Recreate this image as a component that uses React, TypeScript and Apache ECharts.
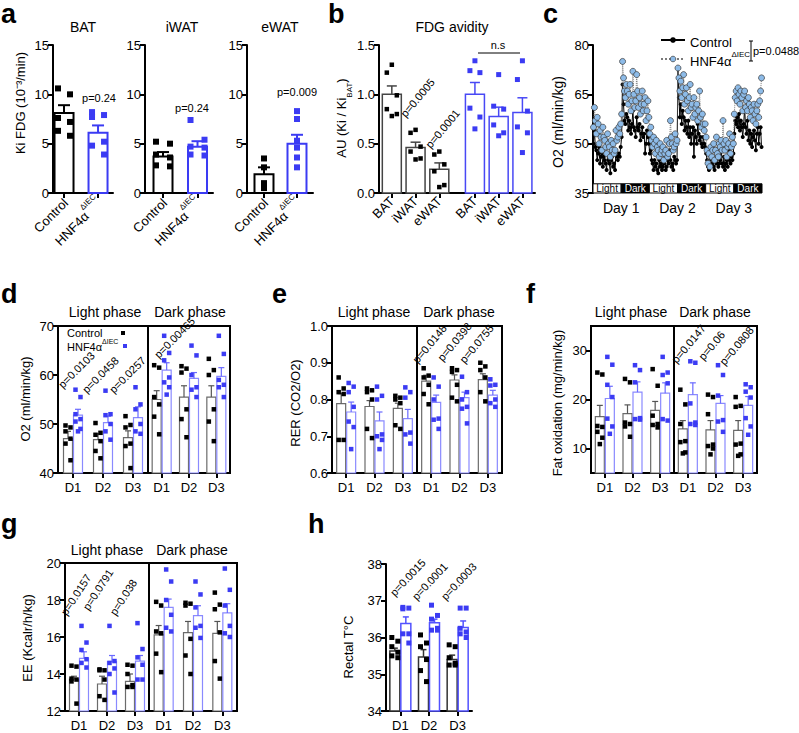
import React, { useEffect, useRef } from 'react';
import * as echarts from 'echarts';

const FONT = '"Liberation Sans", Arial, Helvetica, sans-serif';
const BLUE = '#3b3bf3';
const BLUE_BAR = '#8a8aff';
const BLUE_ERR = '#6a6aff';
const GRAY_BAR = '#6b6b6b';
const GRAY_ERR = '#555555';
const LIGHT_BLUE = '#8dbbe8';

// ---------------- panel a : Ki FDG ----------------
const aTissues = ['BAT', 'iWAT', 'eWAT'];
const aGroups = ['Control', 'HNF4α'];
const aCtrlMean = [8.1, 3.7, 1.9];
const aCtrlSem = [0.8, 0.45, 0.7];
const aHnfMean = [6.1, 4.7, 5.0];
const aHnfSem = [0.75, 0.55, 0.9];
const aCtrlPts = [
  [10.6, 10.0, 7.6, 7.2, 6.3, 5.8],
  [5.2, 5.0, 3.9, 3.6, 2.8, 2.7],
  [3.5, 2.6, 1.0, 0.5],
];
const aHnfPts = [
  [8.2, 7.9, 7.7, 5.2, 4.8, 3.9],
  [7.4, 5.4, 4.7, 4.6, 3.9, 3.8],
  [8.3, 7.5, 5.3, 4.6, 3.6, 2.6],
];
const aPValues = ['p=0.24', 'p=0.24', 'p=0.009'];

// ---------------- panel b : FDG avidity ----------------
const bTissues = ['BAT', 'iWAT', 'eWAT'];
const bCtrlMean = [1.0, 0.46, 0.24];
const bCtrlSem = [0.085, 0.055, 0.065];
const bHnfMean = [1.0, 0.775, 0.815];
const bHnfSem = [0.12, 0.095, 0.15];
const bCtrlPts = [
  [1.30, 1.22, 0.99, 0.85, 0.80, 0.78],
  [0.64, 0.61, 0.47, 0.42, 0.35, 0.34],
  [0.42, 0.39, 0.29, 0.22, 0.08, 0.06],
];
const bHnfPts = [
  [1.34, 1.24, 1.22, 0.86, 0.77, 0.65],
  [1.20, 0.88, 0.85, 0.69, 0.61, 0.58],
  [1.34, 1.15, 0.83, 0.67, 0.61, 0.41],
];
const bPValues = ['p=0.0005', 'p=0.0001'];

// ---------------- panel c : O2 time course ----------------
const cPhases = ['Light', 'Dark', 'Light', 'Dark', 'Light', 'Dark'];
const cDays = ['Day 1', 'Day 2', 'Day 3'];
const cCtrlLight1 = [50, 54, 49, 48, 45, 47, 49, 44, 46, 47, 43, 46, 45, 44, 42, 47, 45, 44, 41, 45, 46, 43, 44, 42, 48, 46, 45, 47, 46, 49];
const cCtrlDark1 = [52, 68, 62, 57, 56, 59, 58, 54, 57, 55, 53, 56, 60, 55, 54, 52, 58, 55, 54, 56, 51, 53, 55, 52, 53, 47, 50, 54, 52, 50];
const cCtrlLight2 = [47, 48, 45, 44, 42, 45, 43, 44, 42, 41, 45, 43, 44, 42, 43, 44, 46, 42, 43, 45, 44, 48, 45, 43, 44, 42, 46, 45, 44, 45];
const cCtrlDark2 = [73, 64, 58, 62, 56, 60, 58, 54, 57, 55, 53, 57, 52, 55, 50, 53, 55, 46, 54, 52, 50, 56, 53, 51, 52, 50, 49, 52, 50, 49];
const cCtrlLight3 = [47, 45, 43, 42, 45, 43, 44, 46, 43, 42, 45, 44, 46, 43, 44, 45, 49, 44, 43, 46, 42, 44, 45, 43, 48, 45, 44, 46, 45, 47];
const cCtrlDark3 = [53, 57, 56, 58, 55, 59, 54, 57, 55, 52, 56, 61, 55, 53, 57, 51, 54, 50, 53, 49, 52, 54, 51, 48, 53, 55, 50, 53, 55, 49];
const cHnfLight1 = [55, 61, 57, 53, 58, 56, 50, 54, 52, 48, 55, 52, 51, 49, 47, 53, 50, 49, 46, 51, 48, 50, 47, 48, 54, 51, 52, 55, 53, 56];
const cHnfDark1 = [59, 75, 70, 66, 64, 68, 66, 62, 65, 68, 60, 63, 72, 65, 61, 63, 71, 66, 61, 64, 59, 62, 66, 60, 62, 64, 57, 60, 63, 58];
const cHnfLight2 = [53, 55, 51, 49, 52, 50, 47, 51, 49, 48, 46, 50, 47, 48, 49, 45, 47, 48, 51, 46, 47, 50, 57, 52, 50, 48, 49, 53, 50, 51];
const cHnfDark2 = [73, 70, 66, 69, 64, 67, 71, 62, 65, 67, 63, 60, 64, 68, 61, 62, 58, 64, 59, 61, 62, 57, 60, 66, 58, 55, 59, 56, 54, 56];
const cHnfLight3 = [52, 48, 44, 47, 43, 49, 46, 48, 50, 45, 48, 52, 47, 46, 50, 49, 51, 48, 57, 50, 48, 51, 46, 49, 50, 53, 47, 49, 52, 50];
const cHnfDark3 = [59, 64, 66, 63, 67, 65, 62, 66, 64, 60, 65, 66, 61, 63, 60, 64, 62, 58, 61, 60, 57, 62, 59, 56, 60, 62, 58, 63, 66, 70];
const cCtrlBlocks = [cCtrlLight1, cCtrlDark1, cCtrlLight2, cCtrlDark2, cCtrlLight3, cCtrlDark3];
const cHnfBlocks = [cHnfLight1, cHnfDark1, cHnfLight2, cHnfDark2, cHnfLight3, cHnfDark3];
const cPValue = 'p=0.0488';

// ---------------- shared for d-h ----------------
const days = ['D1', 'D2', 'D3'];

// panel d : O2 (order: light D1-D3, dark D1-D3)
const dCtrlMean = [47.0, 46.8, 47.2, 55.0, 55.5, 55.5];
const dCtrlSem = [1.5, 1.2, 1.4, 1.8, 2.3, 2.3];
const dHnfMean = [51.8, 50.3, 51.3, 61.0, 59.3, 59.7];
const dHnfSem = [1.2, 1.3, 2.2, 1.5, 1.2, 1.8];
const dCtrlPts = [
  [49.7, 49.3, 48.5, 47.0, 46.0, 42.6],
  [50.2, 48.2, 47.8, 46.5, 44.5, 43.0],
  [51.6, 49.8, 49.3, 46.0, 45.5, 41.0],
  [62.0, 61.5, 55.5, 54.0, 51.5, 47.9],
  [61.8, 61.3, 60.5, 53.0, 51.0, 47.3],
  [63.3, 61.0, 60.0, 53.0, 50.5, 46.5],
];
const dHnfPts = [
  [57.0, 55.5, 52.0, 51.0, 50.5, 49.0, 48.5],
  [56.8, 52.0, 51.8, 50.0, 48.5, 46.8],
  [57.5, 54.0, 53.0, 50.0, 48.5, 48.0],
  [68.0, 64.5, 63.0, 59.5, 58.5, 57.5, 56.0],
  [66.0, 64.0, 60.0, 57.5, 57.0, 55.5],
  [68.0, 64.3, 59.0, 58.0, 57.5, 55.5],
];
const dPValues = ['p=0.0103', 'p=0.0458', 'p=0.0257', 'p=0.00465'];

// panel e : RER
const eCtrlMean = [0.789, 0.781, 0.776, 0.850, 0.853, 0.854];
const eCtrlSem = [0.027, 0.016, 0.014, 0.016, 0.014, 0.016];
const eHnfMean = [0.766, 0.742, 0.748, 0.792, 0.805, 0.812];
const eHnfSem = [0.027, 0.024, 0.025, 0.020, 0.015, 0.013];
const eCtrlPts = [
  [0.86, 0.83, 0.82, 0.815, 0.69, 0.69],
  [0.83, 0.825, 0.82, 0.80, 0.72, 0.695],
  [0.81, 0.805, 0.80, 0.79, 0.73, 0.72],
  [0.885, 0.865, 0.86, 0.84, 0.815, 0.787],
  [0.885, 0.88, 0.875, 0.84, 0.805, 0.795],
  [0.90, 0.89, 0.88, 0.86, 0.82, 0.795],
];
const eHnfPts = [
  [0.845, 0.835, 0.82, 0.78, 0.74, 0.725, 0.665],
  [0.835, 0.81, 0.80, 0.705, 0.70, 0.69, 0.665],
  [0.833, 0.82, 0.805, 0.71, 0.705, 0.68],
  [0.86, 0.835, 0.80, 0.748, 0.745, 0.72],
  [0.862, 0.82, 0.80, 0.78, 0.775, 0.735],
  [0.855, 0.84, 0.838, 0.80, 0.79, 0.78],
];
const ePValues = ['p=0.0148', 'p=0.0398', 'p=0.0755'];

// panel f : fat oxidation
const fCtrlMean = [16.5, 17.1, 17.8, 14.0, 13.8, 13.7];
const fCtrlSem = [2.3, 1.8, 1.8, 1.7, 1.9, 2.0];
const fHnfMean = [20.2, 21.5, 21.3, 21.0, 19.2, 18.8];
const fHnfSem = [2.5, 2.1, 2.1, 2.4, 1.6, 1.8];
const fCtrlPts = [
  [25.5, 25.1, 14.6, 14.4, 13.4, 12.2, 10.9],
  [24.2, 23.5, 15.3, 15.0, 14.5, 12.4],
  [26.2, 22.8, 16.7, 15.0, 14.8, 14.3],
  [22.0, 19.0, 15.0, 11.5, 11.3, 9.2, 9.0],
  [21.0, 20.5, 17.0, 10.8, 10.5, 10.0, 8.8],
  [20.5, 18.7, 18.5, 11.0, 10.8, 8.8, 8.5],
];
const fHnfPts = [
  [28.7, 27.1, 23.0, 20.5, 16.1, 14.5, 13.0],
  [27.0, 26.0, 23.5, 16.2, 16.0, 15.9],
  [28.7, 25.5, 25.0, 23.3, 16.0, 15.7],
  [27.8, 27.5, 19.2, 15.3, 15.0, 14.8],
  [27.0, 25.0, 20.8, 15.8, 15.5, 13.4],
  [23.1, 22.5, 21.6, 20.4, 16.2, 14.5, 12.8],
];
const fTicks = [10, 20, 30];
const fPValues = ['p=0.0147', 'p=0.06', 'p=0.0808'];

// panel g : EE
const gCtrlMean = [13.73, 13.46, 13.6, 16.12, 16.24, 16.2];
const gCtrlSem = [0.15, 0.42, 0.4, 0.5, 0.6, 0.64];
const gHnfMean = [14.85, 14.67, 14.7, 17.6, 17.16, 17.3];
const gHnfSem = [0.35, 0.33, 0.3, 0.45, 0.53, 0.5];
const gCtrlPts = [
  [14.45, 14.4, 13.75, 13.7, 13.6, 12.4],
  [14.25, 14.2, 14.2, 13.7, 12.8, 12.6],
  [14.5, 14.45, 14.0, 13.4, 13.3, 13.3],
  [17.9, 17.7, 16.3, 16.2, 15.1, 14.1],
  [17.85, 17.8, 17.7, 15.9, 15.0, 14.0],
  [18.4, 17.75, 17.5, 16.25, 14.7, 13.75],
];
const gHnfPts = [
  [16.6, 15.7, 15.3, 14.8, 14.6, 14.35],
  [16.6, 14.7, 14.6, 14.3, 14.0, 13.0],
  [16.75, 15.35, 14.9, 14.5, 13.7, 13.7],
  [19.65, 19.0, 18.0, 17.2, 16.5, 16.3],
  [19.0, 18.3, 17.6, 16.6, 16.5, 15.95],
  [19.7, 18.55, 17.7, 16.6, 16.2, 16.0],
];
const gPValues = ['p=0.0157', 'p=0.0791', 'p=0.038'];

// panel h : rectal temperature
const hCtrlMean = [35.63, 35.47, 35.4];
const hCtrlSem = [0.08, 0.2, 0.12];
const hHnfMean = [36.38, 36.4, 36.27];
const hHnfSem = [0.18, 0.1, 0.18];
const hCtrlPts = [
  [36.0, 35.9, 35.75, 35.6, 35.5, 35.45],
  [36.07, 35.85, 35.75, 35.4, 35.1, 34.8],
  [35.8, 35.75, 35.45, 35.3, 35.25, 35.25],
];
const hHnfPts = [
  [36.82, 36.8, 36.78, 36.1, 36.1, 35.85],
  [36.88, 36.6, 36.5, 36.25, 36.2, 36.2],
  [36.8, 36.8, 36.25, 36.15, 36.1, 36.0],
];
const hPValues = ['p=0.0015', 'p=0.0001', 'p=0.0003'];

// ================= helpers =================
const axLine = { show: true, lineStyle: { color: '#000', width: 2 } };
const axTick = { show: true, length: 5, lineStyle: { color: '#000', width: 2 } };
const supRich = {
  n: { fontSize: 13, fontFamily: FONT, color: '#000', lineHeight: 18, verticalAlign: 'bottom' },
  s: { fontSize: 8, fontFamily: FONT, color: '#000', lineHeight: 18, verticalAlign: 'top' },
};

function addGrid(o: any, left: number, top: number, width: number, height: number, border: boolean) {
  o.grid.push({ left, top, width, height, show: border, borderColor: '#000', borderWidth: 2, backgroundColor: 'transparent' });
  return o.grid.length - 1;
}

function addY(o: any, gi: number, min: number, max: number, interval: number | null, show: boolean, ticks?: number[], decimals = 0) {
  const ax: any = {
    type: 'value', gridIndex: gi, min, max, show,
    splitLine: { show: false },
    axisLine: axLine,
    axisTick: { ...axTick },
    axisLabel: { color: '#000', fontSize: 13, margin: 4, fontFamily: FONT, formatter: (v: number) => v.toFixed(decimals) },
  };
  if (interval) ax.interval = interval;
  if (ticks) {
    ax.axisTick.customValues = ticks;
    ax.axisLabel.customValues = ticks;
  }
  o.yAxis.push(ax);
  return o.yAxis.length - 1;
}

function addXCat(o: any, gi: number, data: string[], extra: any = {}) {
  o.xAxis.push({
    type: 'category', gridIndex: gi, data,
    axisLine: axLine,
    axisTick: { ...axTick, alignWithLabel: true },
    axisLabel: { color: '#000', fontSize: 13, margin: 8, interval: 0, fontFamily: FONT },
    splitLine: { show: false },
    ...extra,
  });
  return o.xAxis.length - 1;
}

function addXVal(o: any, gi: number, min: number, max: number, ticks: number[], labels: string[], rich: boolean) {
  o.xAxis.push({
    type: 'value', gridIndex: gi, min, max,
    splitLine: { show: false },
    axisLine: axLine,
    axisTick: { ...axTick, customValues: ticks },
    axisLabel: {
      customValues: ticks, rotate: 45, margin: 6, color: '#000', fontSize: 13, fontFamily: FONT,
      formatter: (v: number) => {
        let k = 0;
        ticks.forEach((t, i) => { if (Math.abs(t - v) < Math.abs(ticks[k] - v)) k = i; });
        const lab = labels[k];
        if (!rich) return lab;
        return lab === 'HNF4α' ? '{n|HNF4α}{s|ΔIEC}' : '{n|' + lab + '}';
      },
      rich: rich ? supRich : undefined,
    },
  });
  return o.xAxis.length - 1;
}

function barS(xi: number, yi: number, data: number[][], dx: number, w: number, stroke: string, lw: number, base: number, name: string) {
  return {
    type: 'custom', name, xAxisIndex: xi, yAxisIndex: yi, coordinateSystem: 'cartesian2d', silent: true, z: 2,
    data,
    renderItem: (_p: any, api: any) => {
      const x = api.value(0);
      const v = api.value(1);
      const t = api.coord([x, v]);
      const b = api.coord([x, base]);
      return {
        type: 'rect',
        shape: { x: t[0] + dx - w / 2, y: t[1], width: w, height: b[1] - t[1] },
        style: { fill: '#fff', stroke, lineWidth: lw },
      };
    },
  };
}

function semS(xi: number, yi: number, data: number[][], dx: number, cap: number, stroke: string, lw: number, name: string) {
  return {
    type: 'custom', name, xAxisIndex: xi, yAxisIndex: yi, coordinateSystem: 'cartesian2d', silent: true, z: 3,
    data,
    renderItem: (_p: any, api: any) => {
      const x = api.value(0);
      const m = api.value(1);
      const s = api.value(2);
      const p0 = api.coord([x, m]);
      const p1 = api.coord([x, m + s]);
      const cx = p0[0] + dx;
      return {
        type: 'group',
        children: [
          { type: 'line', shape: { x1: cx, y1: p0[1], x2: cx, y2: p1[1] }, style: { stroke, lineWidth: lw } },
          { type: 'line', shape: { x1: cx - cap / 2, y1: p1[1], x2: cx + cap / 2, y2: p1[1] }, style: { stroke, lineWidth: lw } },
        ],
      };
    },
  };
}

function ptsS(xi: number, yi: number, data: number[][], dx: number, jitter: number[], size: number, fill: string, name: string) {
  return {
    type: 'custom', name, xAxisIndex: xi, yAxisIndex: yi, coordinateSystem: 'cartesian2d', silent: true, z: 4,
    data,
    renderItem: (_p: any, api: any) => {
      const x = api.value(0);
      const v = api.value(1);
      const j = api.value(2);
      const p = api.coord([x, v]);
      const cx = p[0] + dx + jitter[j % jitter.length];
      return { type: 'rect', shape: { x: cx - size / 2, y: p[1] - size / 2, width: size, height: size }, style: { fill } };
    },
  };
}

function T(text: string, x: number, y: number, opt: any = {}) {
  const align = opt.align || 'center';
  const va = opt.va || 'middle';
  return {
    type: 'text', x, y, rotation: ((opt.rot || 0) * Math.PI) / 180, silent: true, z: 100,
    style: {
      text, fill: opt.color || '#000',
      font: `${opt.bold ? 'bold ' : ''}${opt.size || 13}px ${FONT}`,
      fontSize: opt.size || 13, fontFamily: FONT, fontWeight: opt.bold ? 'bold' : 'normal',
      align, textAlign: align, verticalAlign: va, textVerticalAlign: va,
      rich: opt.rich,
    },
  };
}

const JIT_SMALL = [-2.5, 2.5, -2.5, 2.5, -2.5, 2.5, 0];

function phasePanel(o: any, cfg: any) {
  const parts = [
    { left: cfg.left, w: cfg.lightW, off: 0 },
    { left: cfg.left + cfg.lightW, w: cfg.darkW, off: 3 },
  ];
  parts.forEach((ph, pi) => {
    const gi = addGrid(o, ph.left, cfg.top, ph.w, cfg.h, true);
    const xi = addXCat(o, gi, days);
    const yi = addY(o, gi, cfg.min, cfg.max, cfg.interval, pi === 0, cfg.ticks, cfg.decimals || 0);
    const idx = [0, 1, 2].map((k) => k + ph.off);
    o.series.push(barS(xi, yi, idx.map((j, k) => [k, cfg.cm[j]]), -5, 9, GRAY_BAR, 1.2, cfg.min, 'Control bars'));
    o.series.push(barS(xi, yi, idx.map((j, k) => [k, cfg.hm[j]]), 5, 9, BLUE_BAR, 1.2, cfg.min, 'HNF4α bars'));
    o.series.push(semS(xi, yi, idx.map((j, k) => [k, cfg.cm[j], cfg.cs[j]]), -5, 6, GRAY_ERR, 1.2, 'Control SEM'));
    o.series.push(semS(xi, yi, idx.map((j, k) => [k, cfg.hm[j], cfg.hs[j]]), 5, 6, BLUE_ERR, 1.2, 'HNF4α SEM'));
    o.series.push(ptsS(xi, yi, idx.flatMap((j, k) => cfg.cp[j].map((v: number, q: number) => [k, v, q])), -5, JIT_SMALL, 4.5, '#000', 'Control points'));
    o.series.push(ptsS(xi, yi, idx.flatMap((j, k) => cfg.hp[j].map((v: number, q: number) => [k, v, q])), 5, JIT_SMALL, 4.5, BLUE, 'HNF4α points'));
  });
}

function buildOption() {
  const o: any = {
    animation: false,
    textStyle: { fontFamily: FONT },
    grid: [], xAxis: [], yAxis: [], series: [], graphic: [],
  };

  // ---------- a ----------
  const aLayout = [
    { left: 53, width: 60, min: 0.676, max: 2.44, jit: [-6, 6] },
    { left: 145, width: 68, min: 0.478, max: 2.449, jit: [-7, 7] },
    { left: 247, width: 66, min: 0.485, max: 2.485, jit: [0] },
  ];
  aTissues.forEach((_t, k) => {
    const L = aLayout[k];
    const gi = addGrid(o, L.left, 45, L.width, 148, false);
    const xi = addXVal(o, gi, L.min, L.max, [1, 2], aGroups, true);
    const yi = addY(o, gi, 0, 15, 5, true);
    o.series.push(barS(xi, yi, [[1, aCtrlMean[k]]], 0, 19, '#000', 2, 0, 'Control bars'));
    o.series.push(barS(xi, yi, [[2, aHnfMean[k]]], 0, 19, BLUE, 2, 0, 'HNF4α bars'));
    o.series.push(semS(xi, yi, [[1, aCtrlMean[k], aCtrlSem[k]]], 0, 12, '#000', 2, 'Control SEM'));
    o.series.push(semS(xi, yi, [[2, aHnfMean[k], aHnfSem[k]]], 0, 12, BLUE, 2, 'HNF4α SEM'));
    o.series.push(ptsS(xi, yi, aCtrlPts[k].map((v, q) => [1, v, q]), 0, L.jit, 6, '#000', 'Control points'));
    o.series.push(ptsS(xi, yi, aHnfPts[k].map((v, q) => [2, v, q]), 0, L.jit, 6, BLUE, 'HNF4α points'));
  });

  // ---------- b ----------
  {
    const bPos = [1, 2, 3, 4.5, 5.5, 6.5];
    const gi = addGrid(o, 379, 45, 156, 148, false);
    const xi = addXVal(o, gi, 0.46, 7.03, bPos, [...bTissues, ...bTissues], false);
    const yi = addY(o, gi, 0, 1.5, 0.5, true, undefined, 1);
    const jit = [0, -5, 5, -5, 5, 0];
    o.series.push(barS(xi, yi, bCtrlMean.map((m, k) => [bPos[k], m]), 0, 19, '#444', 1.5, 0, 'Control bars'));
    o.series.push(barS(xi, yi, bHnfMean.map((m, k) => [bPos[k + 3], m]), 0, 19, '#4848f5', 1.5, 0, 'HNF4α bars'));
    o.series.push(semS(xi, yi, bCtrlMean.map((m, k) => [bPos[k], m, bCtrlSem[k]]), 0, 10, '#444', 1.5, 'Control SEM'));
    o.series.push(semS(xi, yi, bHnfMean.map((m, k) => [bPos[k + 3], m, bHnfSem[k]]), 0, 10, '#4848f5', 1.5, 'HNF4α SEM'));
    o.series.push(ptsS(xi, yi, bCtrlPts.flatMap((arr, k) => arr.map((v, q) => [bPos[k], v, q])), 0, jit, 4.5, '#000', 'Control points'));
    o.series.push(ptsS(xi, yi, bHnfPts.flatMap((arr, k) => arr.map((v, q) => [bPos[k + 3], v, q])), 0, jit, 5, BLUE, 'HNF4α points'));
  }

  // ---------- c ----------
  {
    const gi = addGrid(o, 593, 45, 169, 148, false);
    const cCtrl = cCtrlBlocks.flat();
    const cHnf = cHnfBlocks.flat();
    const n = cCtrl.length;
    addXCat(o, gi, cDays, {
      axisLine: { show: false }, axisTick: { show: false },
      axisLabel: { color: '#000', fontSize: 14, margin: 8, fontFamily: FONT },
    });
    o.xAxis.push({ type: 'value', gridIndex: gi, min: 0, max: n, show: false, splitLine: { show: false } });
    const xi = o.xAxis.length - 1;
    const yi = addY(o, gi, 35, 80, null, true, [35, 50, 65, 80]);
    let acc = 0;
    const areas = cCtrlBlocks.map((blk, k) => {
      const s = acc;
      acc += blk.length;
      const dark = cPhases[k] === 'Dark';
      return [
        {
          name: cPhases[k], xAxis: s, yAxis: 35,
          itemStyle: { color: dark ? '#000' : '#fff', borderColor: '#000', borderWidth: 1 },
          label: { show: true, position: 'inside', color: dark ? '#fff' : '#000', fontSize: 10, fontFamily: FONT },
        },
        { xAxis: acc, yAxis: 37.8 },
      ];
    });
    o.series.push({
      type: 'line', name: 'O2 Control', xAxisIndex: xi, yAxisIndex: yi, z: 2,
      data: cCtrl.map((v, i) => [i + 0.5, v]),
      symbol: 'circle', symbolSize: 4, showAllSymbol: true,
      itemStyle: { color: '#000' }, lineStyle: { color: '#000', width: 1 },
      markArea: { silent: true, data: areas },
    });
    o.series.push({
      type: 'line', name: 'O2 HNF4α', xAxisIndex: xi, yAxisIndex: yi, z: 3,
      data: cHnf.map((v, i) => [i + 0.5, v]),
      symbol: 'circle', symbolSize: 6, showAllSymbol: true,
      itemStyle: { color: LIGHT_BLUE, borderColor: '#3a3a3a', borderWidth: 0.7 },
      lineStyle: { color: '#7a7a7a', width: 1, type: 'dotted' },
    });
    o.legend = {
      data: [
        { name: 'O2 Control', itemStyle: { color: '#000' } },
        { name: 'O2 HNF4α', itemStyle: { color: LIGHT_BLUE, borderColor: '#3a3a3a', borderWidth: 0.7 } },
      ],
      orient: 'vertical', left: 655, top: 31,
      itemWidth: 24, itemHeight: 7, itemGap: 1, selectedMode: false,
      textStyle: { fontSize: 13, color: '#000', fontFamily: FONT, rich: supRich },
      formatter: (nm: string) => (nm === 'O2 Control' ? '{n|Control}' : '{n|HNF4α}{s|ΔIEC}'),
    };
  }

  // ---------- d, e, f, g ----------
  phasePanel(o, { left: 58, lightW: 90, darkW: 82, top: 326, h: 147, min: 40, max: 70, interval: 10,
    cm: dCtrlMean, cs: dCtrlSem, hm: dHnfMean, hs: dHnfSem, cp: dCtrlPts, hp: dHnfPts });
  phasePanel(o, { left: 332, lightW: 85, darkW: 85, top: 326, h: 147, min: 0.6, max: 1.0, interval: 0.1, decimals: 1,
    cm: eCtrlMean, cs: eCtrlSem, hm: eHnfMean, hs: eHnfSem, cp: eCtrlPts, hp: eHnfPts });
  phasePanel(o, { left: 591, lightW: 83, darkW: 83, top: 326, h: 147, min: 5, max: 35, interval: null, ticks: fTicks,
    cm: fCtrlMean, cs: fCtrlSem, hm: fHnfMean, hs: fHnfSem, cp: fCtrlPts, hp: fHnfPts });
  phasePanel(o, { left: 65, lightW: 84, darkW: 88, top: 563, h: 148, min: 12, max: 20, interval: 2,
    cm: gCtrlMean, cs: gCtrlSem, hm: gHnfMean, hs: gHnfSem, cp: gCtrlPts, hp: gHnfPts });

  // ---------- h ----------
  {
    const gi = addGrid(o, 386, 564, 86, 147, false);
    const xi = addXCat(o, gi, days);
    const yi = addY(o, gi, 34, 38, 1, true);
    const jit = [-3, 3, -3, 3, -3, 3];
    o.series.push(barS(xi, yi, hCtrlMean.map((m, k) => [k, m]), -5.5, 10, '#333', 1.5, 34, 'Control bars'));
    o.series.push(barS(xi, yi, hHnfMean.map((m, k) => [k, m]), 5.5, 10, '#5252ff', 1.5, 34, 'HNF4α bars'));
    o.series.push(semS(xi, yi, hCtrlMean.map((m, k) => [k, m, hCtrlSem[k]]), -5.5, 6, '#333', 1.5, 'Control SEM'));
    o.series.push(semS(xi, yi, hHnfMean.map((m, k) => [k, m, hHnfSem[k]]), 5.5, 6, '#5252ff', 1.5, 'HNF4α SEM'));
    o.series.push(ptsS(xi, yi, hCtrlPts.flatMap((arr, k) => arr.map((v, q) => [k, v, q])), -5.5, jit, 5, '#000', 'Control points'));
    o.series.push(ptsS(xi, yi, hHnfPts.flatMap((arr, k) => arr.map((v, q) => [k, v, q])), 5.5, jit, 5, BLUE, 'HNF4α points'));
  }

  // ---------- texts ----------
  const G = o.graphic;
  // panel letters
  [['a', 1, 0], ['b', 328, 0], ['c', 543, 0], ['d', 1, 280], ['e', 272, 280], ['f', 526, 280], ['g', 1, 510], ['h', 308, 510]]
    .forEach(([l, x, y]: any) => G.push(T(l, x, y, { size: 27, bold: true, align: 'left', va: 'top' })));
  // titles
  G.push(T('BAT', 83, 27, { size: 14 }));
  G.push(T('iWAT', 182, 27, { size: 14 }));
  G.push(T('eWAT', 280, 27, { size: 14 }));
  G.push(T('FDG avidity', 452, 27, { size: 14 }));
  [[105, 190, 312], [374, 459, 312], [631, 715, 312], [107, 192, 550]].forEach(([l, d, y]) => {
    G.push(T('Light phase', l, y, { size: 14 }));
    G.push(T('Dark phase', d, y, { size: 14 }));
  });
  // y axis names
  G.push(T('Ki FDG (10⁻³/min)', 20, 103, { rot: 90, size: 13 }));
  G.push(T('{n|AU (Ki / Ki}{b|BAT}{n|)}', 344, 118, {
    rot: 90, size: 13,
    rich: {
      n: { fontSize: 13, fontFamily: FONT, fill: '#000', lineHeight: 18, verticalAlign: 'top' },
      b: { fontSize: 8, fontFamily: FONT, fill: '#000', lineHeight: 18, verticalAlign: 'bottom' },
    },
  }));
  G.push(T('O2 (ml/min/kg)', 558, 122, { rot: 90, size: 14 }));
  G.push(T('O2 (ml/min/kg)', 25, 399, { rot: 90, size: 13 }));
  G.push(T('RER (CO2/O2)', 295, 403, { rot: 90, size: 13 }));
  G.push(T('Fat oxidation (mg/min/kg)', 557, 403, { rot: 90, size: 13 }));
  G.push(T('EE (Kcalr/h/kg)', 27, 638, { rot: 90, size: 13 }));
  G.push(T('Rectal T°C', 348, 647, { rot: 90, size: 13 }));
  // p values a
  [[99, 98], [192, 108], [297, 92]].forEach(([x, y], k) => G.push(T(aPValues[k], x, y, { size: 11 })));
  // p values b
  [[407, 119], [432, 150]].forEach(([x, y], k) => G.push(T(bPValues[k], x, y, { size: 11, rot: 50, align: 'left', va: 'bottom' })));
  G.push(T('n.s', 498, 45, { size: 11 }));
  G.push({ type: 'line', silent: true, shape: { x1: 478, y1: 53, x2: 520, y2: 53 }, style: { stroke: '#000', lineWidth: 1 } });
  // c p-value bracket
  G.push({ type: 'line', silent: true, shape: { x1: 751, y1: 41, x2: 751, y2: 61 }, style: { stroke: '#000', lineWidth: 1 } });
  G.push({ type: 'line', silent: true, shape: { x1: 749, y1: 41, x2: 753, y2: 41 }, style: { stroke: '#000', lineWidth: 1 } });
  G.push({ type: 'line', silent: true, shape: { x1: 749, y1: 61, x2: 753, y2: 61 }, style: { stroke: '#000', lineWidth: 1 } });
  G.push(T(cPValue, 753, 51, { size: 11, align: 'left' }));
  // d legend
  G.push(T('Control', 67, 333, { size: 11, align: 'left' }));
  G.push({ type: 'rect', silent: true, shape: { x: 121, y: 331, width: 4, height: 4 }, style: { fill: '#000' } });
  G.push(T('{n|HNF4α}{s|ΔIEC}', 67, 345, {
    size: 11, align: 'left',
    rich: {
      n: { fontSize: 11, fontFamily: FONT, fill: '#000', lineHeight: 15, verticalAlign: 'bottom' },
      s: { fontSize: 7, fontFamily: FONT, fill: '#000', lineHeight: 15, verticalAlign: 'top' },
    },
  }));
  G.push({ type: 'rect', silent: true, shape: { x: 123, y: 344, width: 4, height: 4 }, style: { fill: BLUE } });
  // p values d-h
  [[64, 390], [88, 395], [115, 395], [160, 360]].forEach(([x, y], k) => G.push(T(dPValues[k], x, y, { size: 11, rot: 45, align: 'left', va: 'bottom' })));
  [[419, 365], [444, 363], [466, 365]].forEach(([x, y], k) => G.push(T(ePValues[k], x, y, { size: 11, rot: 50, align: 'left', va: 'bottom' })));
  [[678, 365], [705, 362], [726, 367]].forEach(([x, y], k) => G.push(T(fPValues[k], x, y, { size: 11, rot: 50, align: 'left', va: 'bottom' })));
  [[68, 617], [90, 612], [117, 617]].forEach(([x, y], k) => G.push(T(gPValues[k], x, y, { size: 11, rot: 57, align: 'left', va: 'bottom' })));
  [[396, 598], [418, 602], [447, 602]].forEach(([x, y], k) => G.push(T(hPValues[k], x, y, { size: 11, rot: 47, align: 'left', va: 'bottom' })));

  return o;
}

export default function App() {
  const ref = useRef<HTMLDivElement>(null);
  useEffect(() => {
    const chart = echarts.init(ref.current as HTMLDivElement, null, { renderer: 'svg' });
    chart.setOption(buildOption());
    return () => chart.dispose();
  }, []);
  return (
    <div
      ref={ref}
      style={{ position: 'fixed', left: 0, top: 0, width: 799, height: 733, background: '#fff' }}
    />
  );
}
